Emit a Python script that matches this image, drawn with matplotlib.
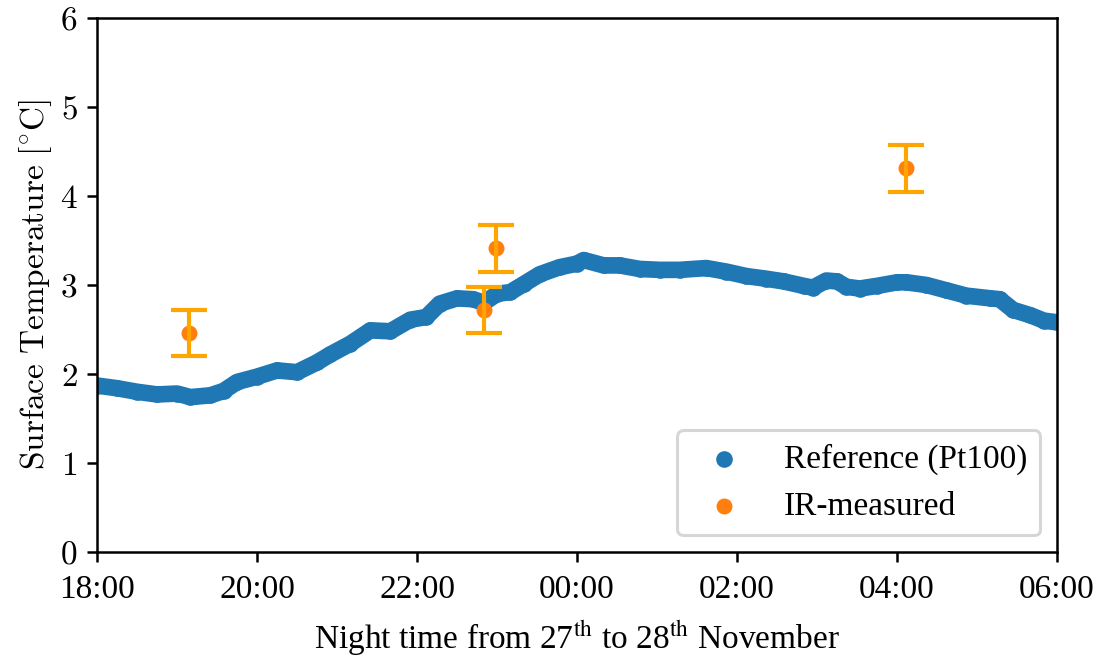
import pandas as pd
import matplotlib
matplotlib.use('Agg')
import matplotlib.pyplot as plt
import matplotlib.dates as mdates

# fonts: Times-like text, Computer Modern for math
plt.rcParams['font.family'] = ['Liberation Serif', 'DejaVu Serif']
plt.rcParams['mathtext.fontset'] = 'cm'
plt.rcParams['font.size'] = 24
plt.rcParams['axes.linewidth'] = 1.8
for ax_name in ['xtick', 'ytick']:
    plt.rcParams[ax_name + '.major.size'] = 7
    plt.rcParams[ax_name + '.major.width'] = 1.8
plt.rcParams['xtick.major.pad'] = 9
plt.rcParams['ytick.major.pad'] = 7

# Pt100 reference curve (clock time, °C)
ref_time = ['18:00', '18:15', '18:30', '18:45', '19:00', '19:10', '19:25', '19:35',
            '19:45', '20:00', '20:15', '20:30', '20:45', '20:55', '21:10', '21:25',
            '21:40', '21:55', '22:07', '22:17', '22:30', '22:42', '22:50', '23:00',
            '23:10', '23:20', '23:32', '23:47', '00:00', '00:05', '00:20', '00:32',
            '00:47', '01:02', '01:17', '01:37', '01:52', '02:07', '02:22', '02:35',
            '02:50', '02:57', '03:07', '03:15', '03:22', '03:32', '03:45', '04:00',
            '04:07', '04:22', '04:37', '04:52', '05:10', '05:17', '05:27', '05:40',
            '05:50', '06:00']
ref_temp = [1.87, 1.84, 1.80, 1.77, 1.78, 1.74, 1.76, 1.81,
            1.91, 1.97, 2.04, 2.02, 2.13, 2.22, 2.34, 2.49,
            2.48, 2.61, 2.64, 2.79, 2.85, 2.84, 2.80, 2.90,
            2.92, 3.01, 3.12, 3.20, 3.24, 3.28, 3.22, 3.22,
            3.18, 3.17, 3.17, 3.19, 3.15, 3.10, 3.07, 3.04,
            2.99, 2.97, 3.05, 3.04, 2.98, 2.96, 2.99, 3.03,
            3.03, 3.00, 2.94, 2.88, 2.85, 2.84, 2.72, 2.66,
            2.60, 2.58]

# IR camera measurements
ir_time = ['19:09', '22:50', '22:59', '04:07']
ir_temp = [2.46, 2.72, 3.41, 4.31]
ir_err = [0.26, 0.26, 0.26, 0.26]


def to_dt(times):
    out = []
    for s in times:
        d = '2019-11-27' if int(s[:2]) >= 12 else '2019-11-28'
        out.append(pd.Timestamp(d + ' ' + s))
    return out


rt = to_dt(ref_time)
it = to_dt(ir_time)

fig = plt.figure(figsize=(10.99, 6.59), dpi=100)
ax = fig.add_axes([0.0883, 0.1624, 0.8735, 0.8103])

ax.plot(rt, ref_temp, color='#1f77b4', lw=12, solid_capstyle='round',
        solid_joinstyle='round', zorder=2)
ax.scatter(rt, ref_temp, s=120, color='#1f77b4', label='Reference (Pt100)', zorder=2)

ax.scatter(it, ir_temp, s=110, color='#ff7f0e', label='IR-measured', zorder=3)
ax.errorbar(it, ir_temp, yerr=ir_err, fmt='none', ecolor='orange',
            elinewidth=3, capsize=13, capthick=3, zorder=4)

ax.set_xlim(pd.Timestamp('2019-11-27 18:00'), pd.Timestamp('2019-11-28 06:00'))
ax.set_ylim(0, 6)
ax.xaxis.set_major_locator(mdates.HourLocator(byhour=range(0, 24, 2)))
ax.xaxis.set_major_formatter(mdates.DateFormatter('%H:%M'))
ax.set_yticks(range(7))
ax.set_yticklabels(['$%d$' % v for v in range(7)])

ax.set_ylabel(r'$\mathrm{Surface\ Temperature\ [^{\circ}C]}$')
ax.set_xlabel(r'Night time from 27$^{\rm th}$ to 28$^{\rm th}$ November',
              math_fontfamily='stix', labelpad=10)

leg = ax.legend(loc='lower right')
leg.get_frame().set_linewidth(2.2)

plt.savefig('out.png', dpi=100)
